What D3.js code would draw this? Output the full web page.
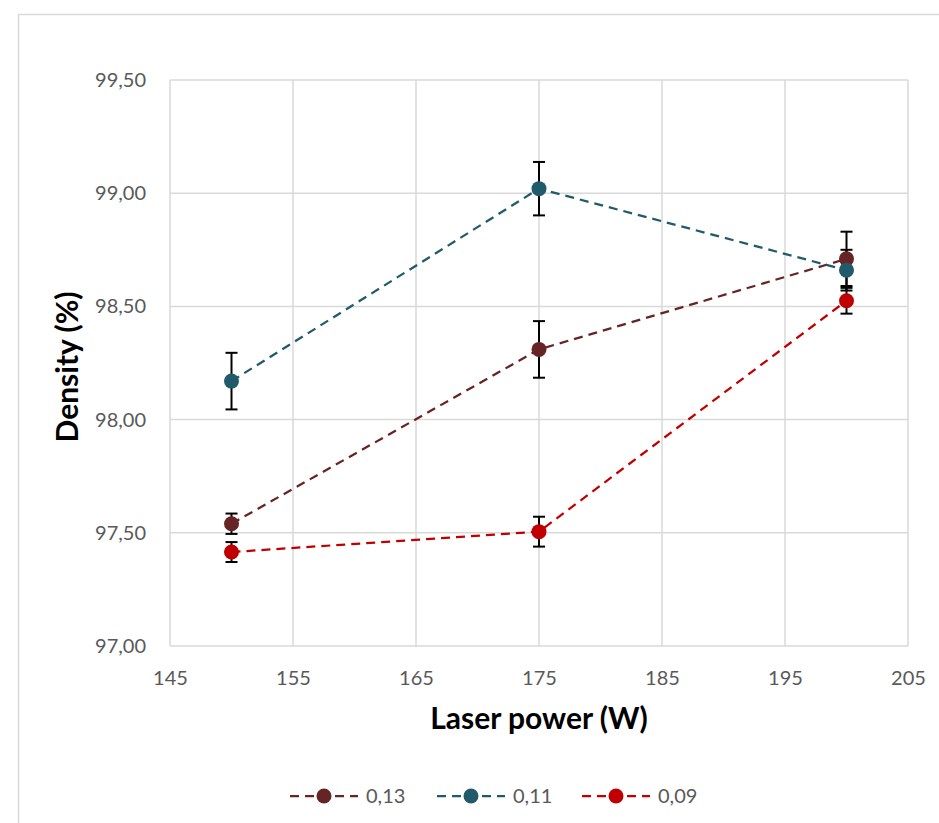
<!DOCTYPE html>
<html>
<head>
<meta charset="utf-8">
<script src="https://cdn.jsdelivr.net/npm/d3@7"></script>
<style>
  body { margin: 0; background: #fff; }
  svg { display: block; font-family: Lato, "Open Sans", sans-serif; }
</style>
</head>
<body>
<div id="chart"></div>
<script>
// data
const power = [150, 175, 200];
const seriesNames = ["0,13", "0,11", "0,09"];
const seriesColors = ["#662424", "#215A6B", "#C00000"];
const dens013 = [97.54, 98.31, 98.71];
const dens011 = [98.17, 99.02, 98.66];
const dens009 = [97.415, 97.505, 98.525];
const err013 = [0.045, 0.125, 0.12];
const err011 = [0.125, 0.118, 0.09];
const err009 = [0.044, 0.066, 0.057];
const xTicks = [145, 155, 165, 175, 185, 195, 205];
const yTicks = [97.0, 97.5, 98.0, 98.5, 99.0, 99.5];

const series = [
  { name: seriesNames[0], color: seriesColors[0], y: dens013, e: err013 },
  { name: seriesNames[1], color: seriesColors[1], y: dens011, e: err011 },
  { name: seriesNames[2], color: seriesColors[2], y: dens009, e: err009 }
];

const W = 939, H = 823;
const margin = { top: 80, right: 31, bottom: 177, left: 170 };

const svg = d3.select("#chart").append("svg")
  .attr("width", W).attr("height", H);

// chart frame
svg.append("rect")
  .attr("x", 18.5).attr("y", 14.5)
  .attr("width", W + 10).attr("height", H + 10)
  .attr("fill", "none").attr("stroke", "#d9d9d9").attr("stroke-width", 1.5);

const x = d3.scaleLinear().domain([145, 205]).range([margin.left, W - margin.right]);
const y = d3.scaleLinear().domain([97, 99.5]).range([H - margin.bottom, margin.top]);

const fmt = d3.format(".2f");
const comma = s => s.replace(".", ",");

// grid
const grid = svg.append("g");
grid.selectAll(".vg").data(xTicks).enter().append("line")
  .attr("x1", d => x(d)).attr("x2", d => x(d))
  .attr("y1", y(99.5)).attr("y2", y(97))
  .attr("stroke", "#d9d9d9").attr("stroke-width", 1.5);
grid.selectAll(".hg").data(yTicks).enter().append("line")
  .attr("x1", x(145)).attr("x2", x(205))
  .attr("y1", d => y(d)).attr("y2", d => y(d))
  .attr("stroke", "#d9d9d9").attr("stroke-width", 1.5);

// axes (labels only, Excel style)
const yAxis = svg.append("g")
  .attr("transform", "translate(" + (margin.left - 21) + ",0)")
  .call(d3.axisLeft(y).tickValues(yTicks).tickSize(0).tickFormat(d => comma(fmt(d))));
yAxis.select(".domain").remove();
yAxis.selectAll("text").attr("fill", "#595959").style("font-size", "20px")
  .style("font-family", "Lato, sans-serif");

const xAxis = svg.append("g")
  .attr("transform", "translate(0," + (y(97) + 22) + ")")
  .call(d3.axisBottom(x).tickValues(xTicks).tickSize(0).tickFormat(d3.format("d")));
xAxis.select(".domain").remove();
xAxis.selectAll("text").attr("fill", "#595959").style("font-size", "20px")
  .style("font-family", "Lato, sans-serif");

// axis titles
svg.append("text")
  .attr("x", (x(145) + x(205)) / 2).attr("y", 729)
  .attr("text-anchor", "middle")
  .style("font-size", "30px").style("font-weight", "bold")
  .text("Laser power (W)");
svg.append("text")
  .attr("transform", "translate(78,367) rotate(-90)")
  .attr("text-anchor", "middle")
  .style("font-size", "30px").style("font-weight", "bold")
  .text("Density (%)");

// lines
const line = d3.line().x((d, i) => x(power[i])).y(d => y(d));
series.forEach(s => {
  svg.append("path")
    .datum(s.y)
    .attr("d", line)
    .attr("fill", "none")
    .attr("stroke", s.color)
    .attr("stroke-width", 2.25)
    .attr("stroke-dasharray", "9,6");
});

// error bars (under the markers)
series.forEach(s => {
  const g = svg.append("g").attr("stroke", "#000").attr("stroke-width", 2);
  s.y.forEach((v, i) => {
    const cx = x(power[i]);
    const y0 = y(v + s.e[i]), y1 = y(v - s.e[i]);
    g.append("line").attr("x1", cx).attr("x2", cx).attr("y1", y0).attr("y2", y1);
    g.append("line").attr("x1", cx - 6).attr("x2", cx + 6).attr("y1", y0).attr("y2", y0);
    g.append("line").attr("x1", cx - 6).attr("x2", cx + 6).attr("y1", y1).attr("y2", y1);
  });
});

// markers
series.forEach(s => {
  svg.append("g").selectAll("circle")
    .data(s.y).enter().append("circle")
    .attr("cx", (d, i) => x(power[i]))
    .attr("cy", d => y(d))
    .attr("r", 7.5)
    .attr("fill", s.color);
});

// legend
const legendX = [290, 437, 582];
const legend = svg.append("g");
series.forEach((s, i) => {
  const g = legend.append("g").attr("transform", "translate(" + legendX[i] + ",796)");
  g.append("line").attr("x1", 0).attr("x2", 68).attr("y1", 0).attr("y2", 0)
    .attr("stroke", s.color).attr("stroke-width", 2.25).attr("stroke-dasharray", "9,6");
  g.append("circle").attr("cx", 34).attr("cy", 0).attr("r", 7.5).attr("fill", s.color);
  g.append("text").attr("x", 76).attr("y", 0).attr("dy", "0.35em")
    .attr("fill", "#595959").style("font-size", "20px").text(s.name);
});
</script>
</body>
</html>
